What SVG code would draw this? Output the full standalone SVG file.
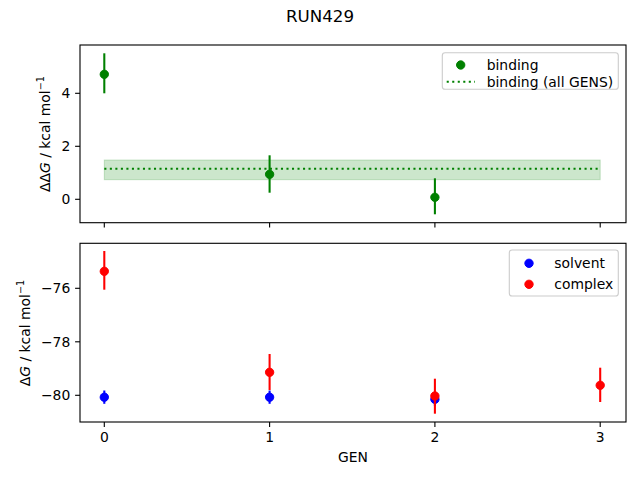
<svg xmlns="http://www.w3.org/2000/svg" width="640" height="480" viewBox="0 0 640 480">
<style>
text{font-family:"DejaVu Sans",sans-serif;font-size:13.9px;fill:#000}
.spine{fill:none;stroke:#000;stroke-width:1.11}
.tick{stroke:#000;stroke-width:1.11}
.err{stroke-width:2.08}
.g{fill:#008000;stroke:#008000}
.b{fill:#0000ff;stroke:#0000ff}
.r{fill:#ff0000;stroke:#ff0000}
.leg{fill:#fff;fill-opacity:0.8;stroke:#cccccc;stroke-width:1.11}
.yl{text-anchor:end}
.xl{text-anchor:middle}
</style>
<rect width="640" height="480" fill="#fff"/>
<text x="320" y="21.5" text-anchor="middle" style="font-size:16.7px">RUN429</text>

<g id="top-axes">
  <rect id="band" x="104.3" y="160" width="495.9" height="19.7" fill="#008000" fill-opacity="0.2" stroke="#008000" stroke-opacity="0.2" stroke-width="1"/>
  <line id="mean" x1="104.3" y1="168.7" x2="600.2" y2="168.7" stroke="#008000" stroke-width="2.08" stroke-dasharray="2.08 3.44"/>
  <g id="binding-points">
    <line class="g err" x1="104.3" y1="53.3" x2="104.3" y2="93.3"/>
    <circle class="g" cx="104.3" cy="74.3" r="4.17" stroke="none"/>
    <line class="g err" x1="269.6" y1="155.3" x2="269.6" y2="192.7"/>
    <circle class="g" cx="269.6" cy="174.3" r="4.17" stroke="none"/>
    <line class="g err" x1="434.9" y1="178.3" x2="434.9" y2="214.3"/>
    <circle class="g" cx="434.9" cy="197.3" r="4.17" stroke="none"/>
  </g>
  <rect class="spine" x="80" y="45" width="546" height="177.7"/>
  <g id="top-ticks">
    <line class="tick" x1="80" y1="199.3" x2="75.1" y2="199.3"/>
    <line class="tick" x1="80" y1="146.3" x2="75.1" y2="146.3"/>
    <line class="tick" x1="80" y1="93.3" x2="75.1" y2="93.3"/>
    <line class="tick" x1="104.3" y1="222.7" x2="104.3" y2="227.6"/>
    <line class="tick" x1="269.6" y1="222.7" x2="269.6" y2="227.6"/>
    <line class="tick" x1="434.9" y1="222.7" x2="434.9" y2="227.6"/>
    <line class="tick" x1="600.2" y1="222.7" x2="600.2" y2="227.6"/>
    <text class="yl" x="70.3" y="204.3">0</text>
    <text class="yl" x="70.3" y="151.3">2</text>
    <text class="yl" x="70.3" y="98.3">4</text>
  </g>
  <text transform="translate(50,134) rotate(-90)" text-anchor="middle">ΔΔ<tspan font-style="italic">G</tspan> / kcal mol<tspan dy="-5.6" style="font-size:9.7px">−1</tspan></text>
  <g id="top-legend">
    <rect class="leg" x="442.3" y="52.7" width="176" height="36.6" rx="2.8"/>
    <circle class="g" cx="460.7" cy="65" r="4.17" stroke="none"/>
    <text x="486.7" y="69.8">binding</text>
    <line x1="446.7" y1="81.7" x2="475" y2="81.7" stroke="#008000" stroke-width="2.08" stroke-dasharray="2.08 3.44"/>
    <text x="486.7" y="86.5">binding (all GENS)</text>
  </g>
</g>

<g id="bottom-axes">
  <g id="solvent-points">
    <line class="b err" x1="104.3" y1="390.5" x2="104.3" y2="403.8"/>
    <circle class="b" cx="104.3" cy="397.2" r="4.17" stroke="none"/>
    <line class="b err" x1="269.6" y1="390.5" x2="269.6" y2="403.8"/>
    <circle class="b" cx="269.6" cy="397.2" r="4.17" stroke="none"/>
    <line class="b err" x1="434.9" y1="392.8" x2="434.9" y2="405.8"/>
    <circle class="b" cx="434.9" cy="399.3" r="4.17" stroke="none"/>
  </g>
  <g id="complex-points">
    <line class="r err" x1="104.3" y1="251" x2="104.3" y2="289.7"/>
    <circle class="r" cx="104.3" cy="271.3" r="4.17" stroke="none"/>
    <line class="r err" x1="269.6" y1="354" x2="269.6" y2="390"/>
    <circle class="r" cx="269.6" cy="372.3" r="4.17" stroke="none"/>
    <line class="r err" x1="434.9" y1="378.7" x2="434.9" y2="413.7"/>
    <circle class="r" cx="434.9" cy="396" r="4.17" stroke="none"/>
    <line class="r err" x1="600.2" y1="367.7" x2="600.2" y2="402"/>
    <circle class="r" cx="600.2" cy="385.3" r="4.17" stroke="none"/>
  </g>
  <rect class="spine" x="80" y="243.3" width="546" height="178.7"/>
  <g id="bottom-ticks">
    <line class="tick" x1="80" y1="288.3" x2="75.1" y2="288.3"/>
    <line class="tick" x1="80" y1="341.8" x2="75.1" y2="341.8"/>
    <line class="tick" x1="80" y1="395.3" x2="75.1" y2="395.3"/>
    <text class="yl" x="70.3" y="293.3">−76</text>
    <text class="yl" x="70.3" y="346.8">−78</text>
    <text class="yl" x="70.3" y="400.3">−80</text>
    <line class="tick" x1="104.3" y1="422" x2="104.3" y2="426.9"/>
    <line class="tick" x1="269.6" y1="422" x2="269.6" y2="426.9"/>
    <line class="tick" x1="434.9" y1="422" x2="434.9" y2="426.9"/>
    <line class="tick" x1="600.2" y1="422" x2="600.2" y2="426.9"/>
    <text class="xl" x="104.3" y="442">0</text>
    <text class="xl" x="269.6" y="442">1</text>
    <text class="xl" x="434.9" y="442">2</text>
    <text class="xl" x="600.2" y="442">3</text>
  </g>
  <text x="353" y="462.3" text-anchor="middle">GEN</text>
  <text transform="translate(30,333) rotate(-90)" text-anchor="middle">Δ<tspan font-style="italic">G</tspan> / kcal mol<tspan dy="-5.6" style="font-size:9.7px">−1</tspan></text>
  <g id="bottom-legend">
    <rect class="leg" x="509.3" y="250" width="109" height="46" rx="2.8"/>
    <circle class="b" cx="529" cy="263.3" r="4.17" stroke="none"/>
    <text x="554.3" y="268">solvent</text>
    <circle class="r" cx="529" cy="284.3" r="4.17" stroke="none"/>
    <text x="554.3" y="289">complex</text>
  </g>
</g>
</svg>
